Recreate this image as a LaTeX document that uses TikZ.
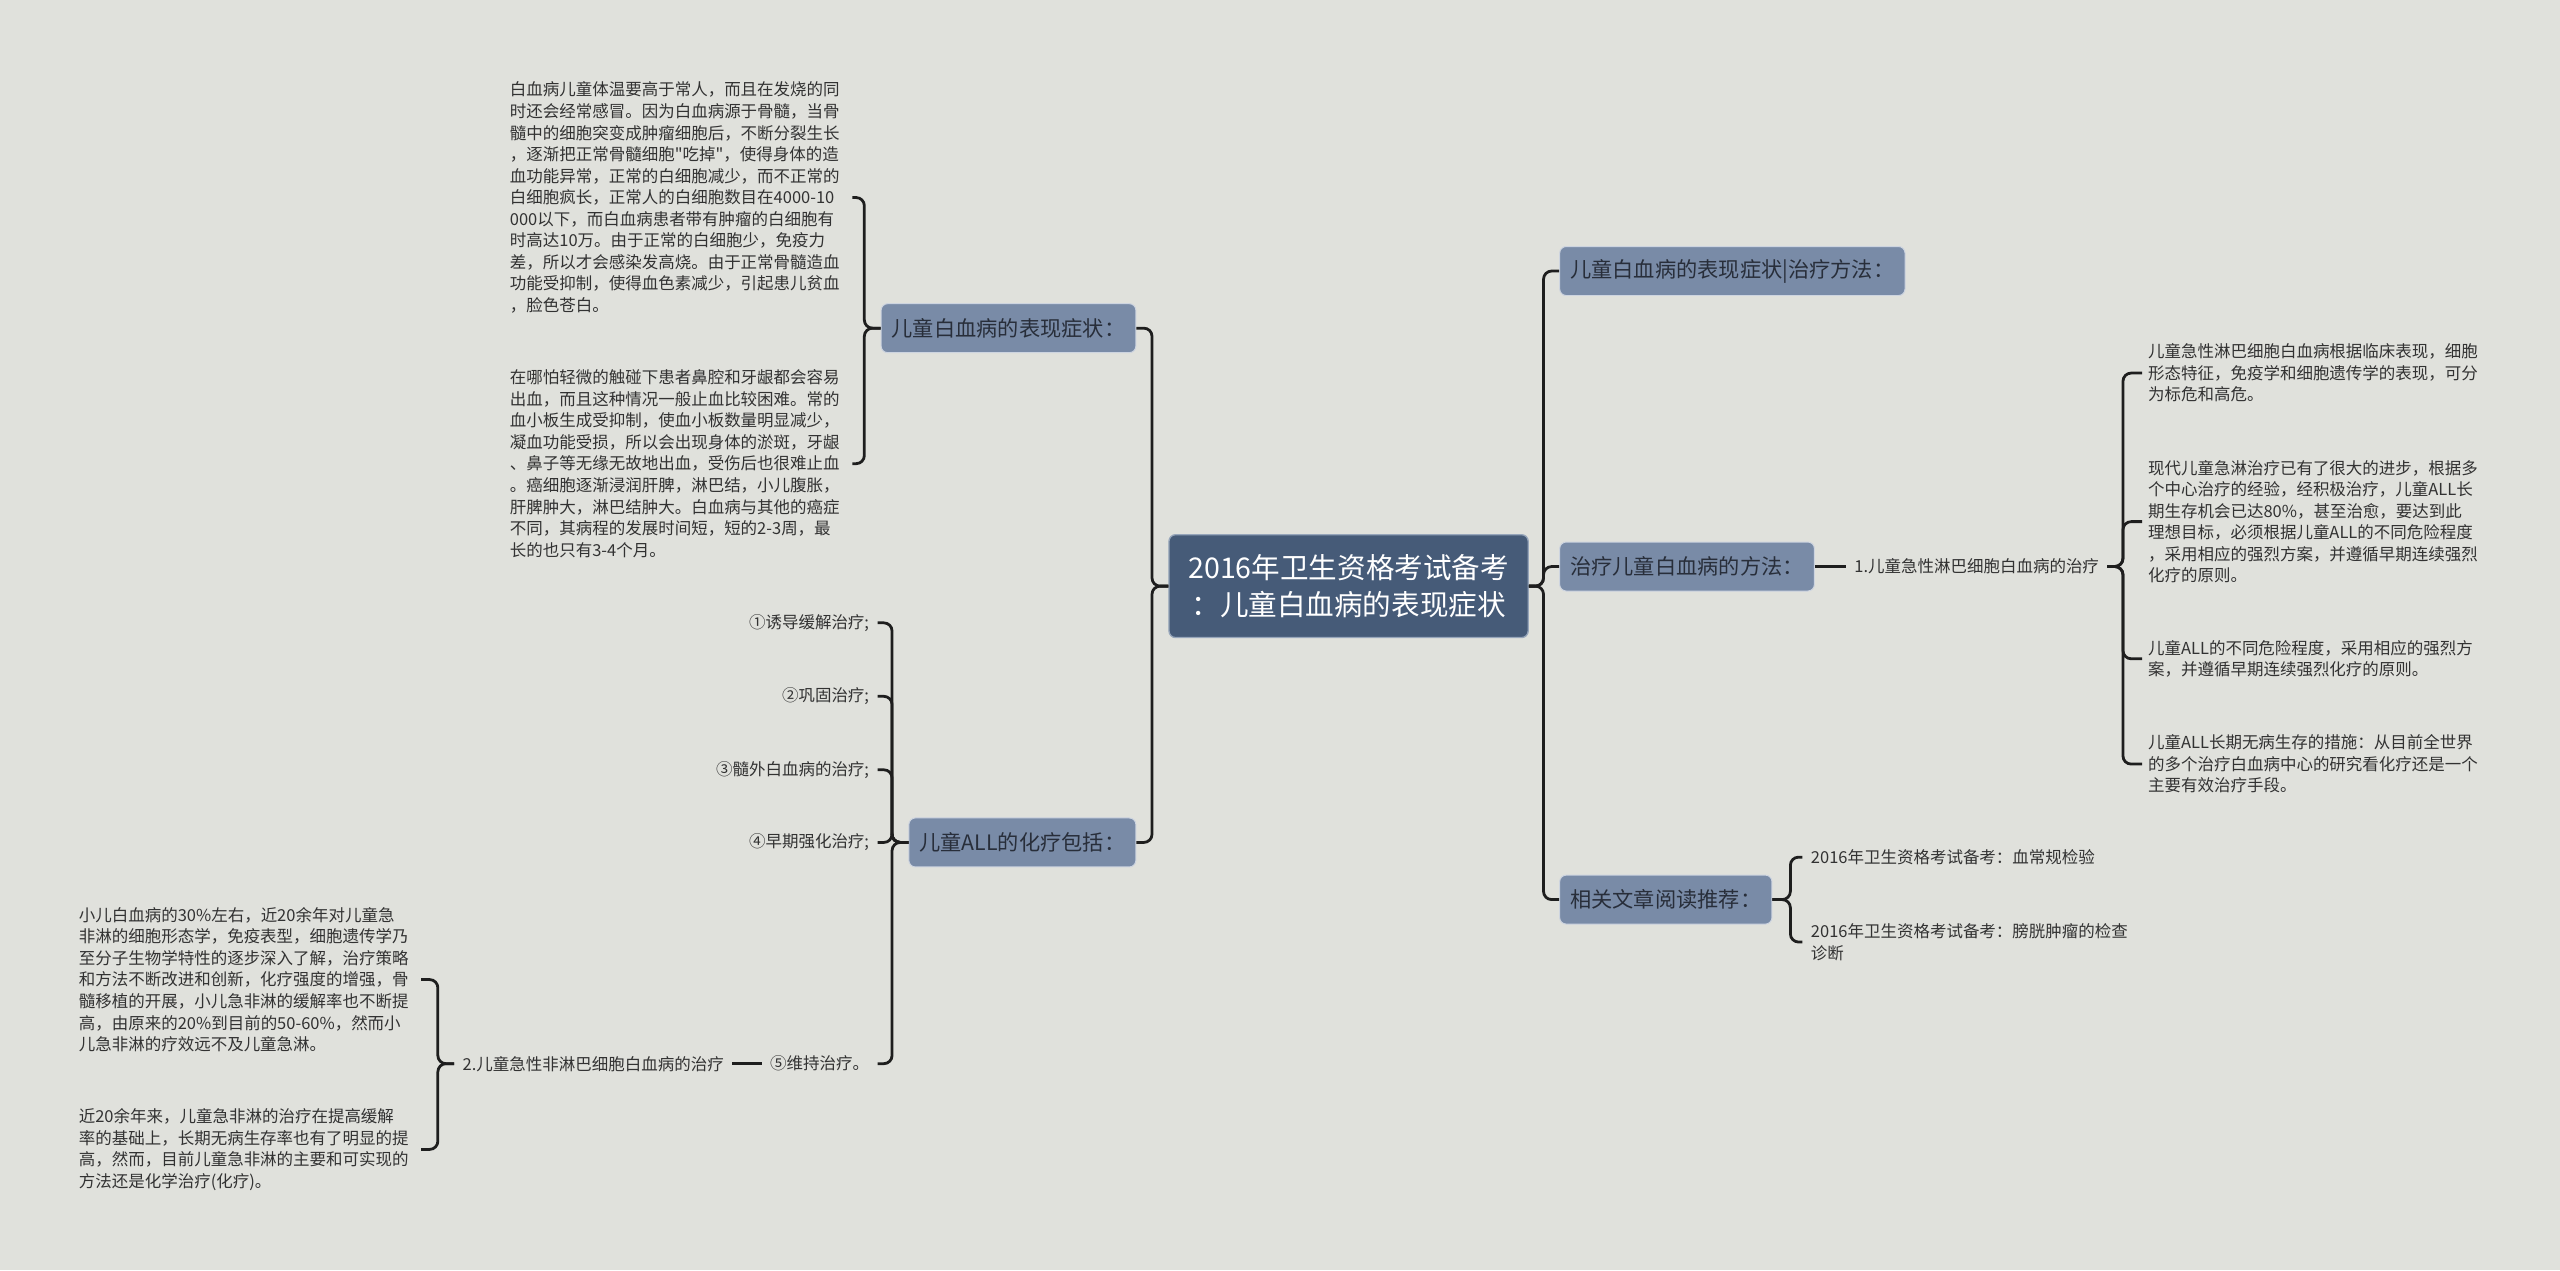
\documentclass[tikz,border=0pt]{standalone}
\usepackage{fontspec}
\newfontfamily\cjk{Noto Sans CJK SC}
\usetikzlibrary{positioning, calc}
\usepackage{xcolor}
\definecolor{bg}{RGB}{224,225,220}
\definecolor{rootfill}{RGB}{70,91,120}
\definecolor{rootline}{RGB}{150,165,186}
\definecolor{topicfill}{RGB}{121,139,167}
\definecolor{topicline}{RGB}{205,212,224}
\definecolor{topictext}{RGB}{40,46,58}
\definecolor{inkc}{RGB}{30,30,30}
\definecolor{textc}{RGB}{50,50,50}

\begin{document}
\begin{tikzpicture}[
  x=1pt, y=-1pt,
  root/.style={draw=rootline, line width=0.8pt, fill=rootfill, rounded corners=4pt, text=white,
    font=\cjk\fontsize{17.5}{22.6}\selectfont, align=center, minimum width=220pt, minimum height=63pt, inner sep=0pt},
  topic/.style={draw=topicline, line width=0.6pt, fill=topicfill, rounded corners=4pt, text=topictext,
    font=\cjk\fontsize{13}{15}\selectfont, inner xsep=6.5pt, inner ysep=0pt, minimum height=30pt},
  leaf/.style={font=\cjk\fontsize{10.1}{13.2}\selectfont, text=textc, inner xsep=5pt, inner ysep=2pt},
  note/.style={leaf, align=left, text width=206pt, inner xsep=3.5pt},
  link/.style={draw=inkc, line width=1.7pt, rounded corners=5pt}
]

\fill[bg] (0,0) rectangle (1568,778);
\useasboundingbox (0,0) rectangle (1568,778);

% centre
\node[root] (C) at (826,359) {2016年卫生资格考试备考\\：儿童白血病的表现症状};

% main topics
\node[topic, anchor=east] (L1) at (696,201) {儿童白血病的表现症状：};
\node[topic, anchor=east] (L2) at (696,516) {儿童ALL的化疗包括：};
\node[topic, anchor=west] (R1) at (955,166) {儿童白血病的表现症状|治疗方法：};
\node[topic, anchor=west] (R2) at (955,347) {治疗儿童白血病的方法：};
\node[topic, anchor=west] (R3) at (955,551) {相关文章阅读推荐：};

% symptoms
\node[note, anchor=east] (S1) at (522,121) {白血病儿童体温要高于常人，而且在发烧的同\\
时还会经常感冒。因为白血病源于骨髓，当骨\\
髓中的细胞突变成肿瘤细胞后，不断分裂生长\\
，逐渐把正常骨髓细胞"吃掉"，使得身体的造\\
血功能异常，正常的白细胞减少，而不正常的\\
白细胞疯长，正常人的白细胞数目在4000-10\\
000以下，而白血病患者带有肿瘤的白细胞有\\
时高达10万。由于正常的白细胞少，免疫力\\
差，所以才会感染发高烧。由于正常骨髓造血\\
功能受抑制，使得血色素减少，引起患儿贫血\\
，脸色苍白。};
\node[note, anchor=east] (S2) at (522,284) {在哪怕轻微的触碰下患者鼻腔和牙龈都会容易\\
出血，而且这种情况一般止血比较困难。常的\\
血小板生成受抑制，使血小板数量明显减少，\\
凝血功能受损，所以会出现身体的淤斑，牙龈\\
、鼻子等无缘无故地出血，受伤后也很难止血\\
。癌细胞逐渐浸润肝脾，淋巴结，小儿腹胀，\\
肝脾肿大，淋巴结肿大。白血病与其他的癌症\\
不同，其病程的发展时间短，短的2-3周，最\\
长的也只有3-4个月。};

% chemotherapy
\node[leaf, anchor=east] (T1) at (537.5,381.5) {①诱导缓解治疗;};
\node[leaf, anchor=east] (T2) at (537.5,426.5) {②巩固治疗;};
\node[leaf, anchor=east] (T3) at (537.5,471.5) {③髓外白血病的治疗;};
\node[leaf, anchor=east] (T4) at (537.5,516) {④早期强化治疗;};
\node[leaf, anchor=east] (T5) at (537.5,651.5) {⑤维持治疗。};
\node[leaf, left=18pt of T5] (N2) {2.儿童急性非淋巴细胞白血病的治疗};

\node[note, anchor=east] (U1) at (258,600) {小儿白血病的30\%左右，近20余年对儿童急\\
非淋的细胞形态学，免疫表型，细胞遗传学乃\\
至分子生物学特性的逐步深入了解，治疗策略\\
和方法不断改进和创新，化疗强度的增强，骨\\
髓移植的开展，小儿急非淋的缓解率也不断提\\
高，由原来的20\%到目前的50-60\%，然而小\\
儿急非淋的疗效远不及儿童急淋。};
\node[note, anchor=east] (U2) at (258,704) {近20余年来，儿童急非淋的治疗在提高缓解\\
率的基础上，长期无病生存率也有了明显的提\\
高，然而，目前儿童急非淋的主要和可实现的\\
方法还是化学治疗(化疗)。};

% treatment
\node[leaf, right=19pt of R2] (N1) {1.儿童急性淋巴细胞白血病的治疗};

\node[note, anchor=west] (V1) at (1312,228.5) {儿童急性淋巴细胞白血病根据临床表现，细胞\\
形态特征，免疫学和细胞遗传学的表现，可分\\
为标危和高危。};
\node[note, anchor=west] (V2) at (1312,319.5) {现代儿童急淋治疗已有了很大的进步，根据多\\
个中心治疗的经验，经积极治疗，儿童ALL长\\
期生存机会已达80\%，甚至治愈，要达到此\\
理想目标，必须根据儿童ALL的不同危险程度\\
，采用相应的强烈方案，并遵循早期连续强烈\\
化疗的原则。};
\node[note, anchor=west] (V3) at (1312,403.5) {儿童ALL的不同危险程度，采用相应的强烈方\\
案，并遵循早期连续强烈化疗的原则。};
\node[note, anchor=west] (V4) at (1312,468) {儿童ALL长期无病生存的措施：从目前全世界\\
的多个治疗白血病中心的研究看化疗还是一个\\
主要有效治疗手段。};

% related reading
\node[leaf, anchor=west] (W1) at (1104,525) {2016年卫生资格考试备考：血常规检验};
\node[leaf, anchor=west, align=left] (W2) at (1104,577) {2016年卫生资格考试备考：膀胱肿瘤的检查\\诊断};

% connectors
\foreach \n in {L1,L2} {
  \draw[link] (C.west) -- ++(-10,0) |- (\n.east);
}
\foreach \n in {R1,R2,R3} {
  \draw[link] (C.east) -- ++(9,0) |- (\n.west);
}
\foreach \n in {S1,S2} {
  \draw[link] (L1.west) -- ++(-10,0) |- (\n.east);
}
\foreach \i in {1,...,5} {
  \draw[link] (L2.west) -- ++(-10,0) |- (T\i.east);
}
\draw[link] (T5.west) -- (N2.east);
\foreach \n in {U1,U2} {
  \draw[link] (N2.west) -- ++(-10,0) |- (\n.east);
}
\draw[link] (R2.east) -- (N1.west);
\foreach \i in {1,...,4} {
  \draw[link] (N1.east) -- ++(9.5,0) |- (V\i.west);
}
\foreach \n in {W1,W2} {
  \draw[link] (R3.east) -- ++(11,0) |- (\n.west);
}

\end{tikzpicture}
\end{document}
